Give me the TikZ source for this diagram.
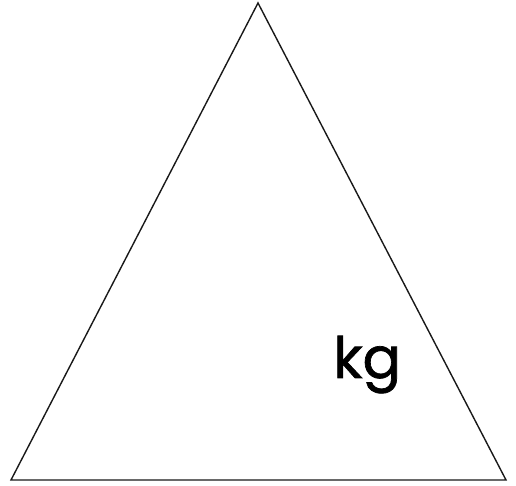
\documentclass[tikz,border=0pt]{standalone}
\usepackage{fontspec}
\setmainfont{Poppins}
\newfontfamily\kgfont{Poppins}[FakeBold=1.2]
\begin{document}
\begin{tikzpicture}[x=1pt,y=1pt,
  edge/.style={line width=1.4pt, draw=black!90, line join=miter},
  unit/.style={font=\kgfont\fontsize{57}{62}\selectfont, inner sep=0pt, anchor=base west}]
\useasboundingbox (0,0) rectangle (516,486);
\coordinate (top) at (258,483);
\coordinate (bl) at (11,6);
\coordinate (br) at (506,6);
\draw[edge] (top) -- (bl) -- (br) -- cycle;
\node[unit] (kg) at (333,108) {kg};
\end{tikzpicture}
\end{document}
